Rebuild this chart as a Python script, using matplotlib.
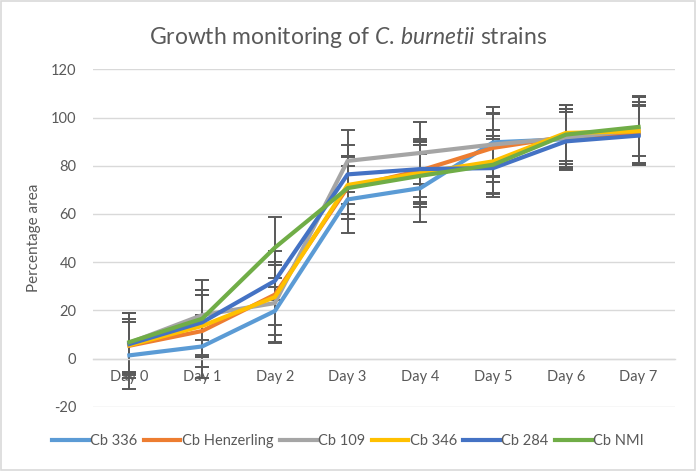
import matplotlib
matplotlib.use("Agg")
import matplotlib.pyplot as plt
from matplotlib.patches import Rectangle

plt.rcParams['font.family'] = ['Lato', 'DejaVu Sans']
plt.rcParams['mathtext.fontset'] = 'custom'
plt.rcParams['mathtext.it'] = 'Lato:italic'
plt.rcParams['mathtext.rm'] = 'Lato'

days = ["Day 0", "Day 1", "Day 2", "Day 3", "Day 4", "Day 5", "Day 6", "Day 7"]
series_names = ["Cb 336", "Cb Henzerling", "Cb 109", "Cb 346", "Cb 284", "Cb NMI"]

cb336 = [1.3, 5.0, 19.7, 66.0, 70.7, 89.7, 91.0, 93.0]
cb_henz = [5.3, 11.4, 26.5, 71.0, 78.0, 87.4, 92.0, 93.5]
cb109 = [6.5, 18.0, 23.0, 82.0, 85.3, 88.8, 91.5, 95.0]
cb346 = [5.5, 13.5, 25.5, 72.0, 77.0, 81.8, 93.6, 94.3]
cb284 = [6.0, 15.0, 32.2, 76.4, 78.6, 79.0, 90.1, 92.5]
cbnmi = [6.8, 16.5, 46.0, 70.7, 75.8, 80.4, 92.9, 96.1]

err336 = [14.0, 13.0, 10.0, 14.0, 14.0, 14.5, 12.5, 12.0]
err_henz = [11.0, 15.0, 12.5, 13.0, 13.0, 14.0, 13.0, 13.0]
err109 = [12.5, 10.5, 16.0, 13.0, 12.7, 13.2, 12.0, 14.0]
err346 = [13.5, 13.0, 19.0, 12.0, 13.0, 13.0, 11.6, 14.0]
err284 = [13.0, 13.5, 8.0, 12.2, 11.6, 12.0, 12.0, 12.3]
errnmi = [12.2, 16.0, 12.6, 13.0, 12.8, 12.0, 12.3, 12.2]

values = [cb336, cb_henz, cb109, cb346, cb284, cbnmi]
errors = [err336, err_henz, err109, err346, err284, errnmi]
colors = ["#5B9BD5", "#ED7D31", "#A5A5A5", "#FFC000", "#4472C4", "#70AD47"]

yticks = [-20, 0, 20, 40, 60, 80, 100, 120]

fig = plt.figure(figsize=(6.96, 4.71), dpi=100)
ax = fig.add_axes([93/696, 1 - 406.7/471, (675-93)/696, (406.7-69.3)/471])

x = list(range(len(days)))
for v, e in zip(values, errors):
    ax.errorbar(x, v, yerr=e, fmt='none', ecolor='#595959', elinewidth=1.4,
                capsize=5, capthick=1.4, zorder=2)
for v, c, n in zip(values, colors, series_names):
    ax.plot(x, v, color=c, lw=3.0, label=n, zorder=3, solid_joinstyle='round')

ax.set_xlim(-0.5, len(days) - 0.5)
ax.set_ylim(-20, 120)
ax.set_yticks(yticks)
ax.set_yticklabels([str(t) for t in yticks])
ax.set_xticks(x)
ax.set_xticklabels(days)
ax.yaxis.grid(True, color='#D9D9D9', lw=1.0)
ax.set_axisbelow(True)
for s in ['top', 'right', 'left']:
    ax.spines[s].set_visible(False)
ax.spines['bottom'].set_position(('data', 0))
ax.spines['bottom'].set_color('#D9D9D9')
ax.spines['bottom'].set_linewidth(1.0)
ax.tick_params(axis='both', length=0, colors='#595959', labelsize=10.5)
ax.tick_params(axis='x', pad=8)
ax.tick_params(axis='y', pad=12)

ax.set_ylabel("Percentage area", fontsize=11, color='#595959', labelpad=7)

fig.text(0.5, 1 - 37/471, "Growth monitoring of $\\it{C.\\,burnetii}$ strains",
         ha='center', va='center', fontsize=16.5, color='#595959')

leg = fig.legend(loc='center', bbox_to_anchor=(0.5, 1 - 441/471), ncol=6,
                 frameon=False, fontsize=10.5, handlelength=2.5, handletextpad=0.1,
                 columnspacing=0.45, labelcolor='#595959')

fig.patches.append(Rectangle((0.002, 0.002), 0.996, 0.996, transform=fig.transFigure,
                             fill=False, edgecolor='#D9D9D9', lw=1.2))

fig.savefig("out.png", dpi=100)
